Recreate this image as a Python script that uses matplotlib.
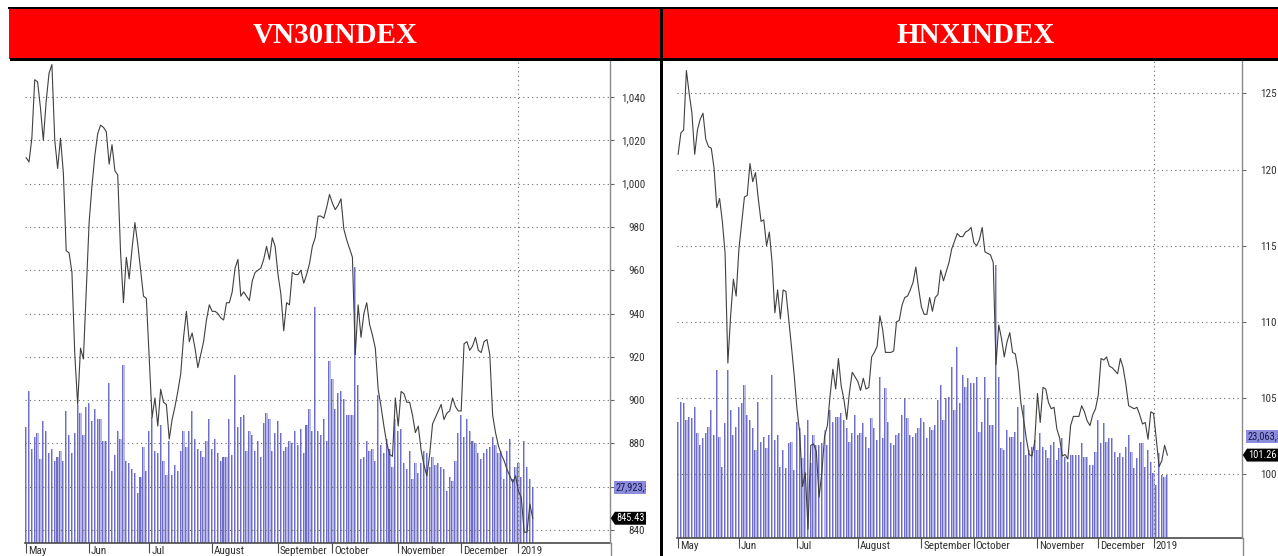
import matplotlib
matplotlib.use("Agg")
import numpy as np
import matplotlib.pyplot as plt
import matplotlib.font_manager as fm
from matplotlib.patches import Rectangle
from matplotlib.lines import Line2D
from matplotlib.path import Path
import matplotlib.transforms as mtransforms

# ---------------- data (one value per trading day, 2 May 2018 - early Jan 2019) ----------------
month_labels = ["May", "Jun", "Jul", "August", "September", "October",
                "November", "December", "2019"]
month_pos = [0, 22, 43, 65, 88, 107, 130, 152, 172]

vn30_close = [
    1012, 1010, 1021, 1048, 1047, 1035, 1020, 1038, 1051, 1055,
    1020, 1007, 1021, 1005, 969, 968, 959, 921, 898, 924,
    919, 951, 982, 999, 1013, 1023, 1027, 1026, 1024, 1009,
    1018, 1006, 1004, 968, 945, 966, 956, 970, 982, 972,
    960, 948, 947, 920, 892, 901, 888, 905, 899, 898,
    882, 891, 897, 904, 912, 929, 941, 927, 931, 924,
    915, 921, 927, 937, 944, 941, 941, 940, 938, 937,
    945, 945, 950, 961, 965, 948, 950, 948, 946, 955,
    959, 960, 961, 965, 971, 965, 975, 971, 958,
    949, 932, 945, 944, 959, 958, 958, 960, 954, 958,
    963, 971, 975, 985, 985, 984, 989, 995, 991, 988,
    990, 993, 979, 974, 970, 966, 921, 944, 929, 940,
    945, 935, 930, 924, 905, 897, 888, 880, 875, 874,
    901, 888, 904, 903, 899, 899, 893, 885, 888, 877,
    870, 865, 875, 889, 892, 895, 898, 891, 894, 895,
    901, 897, 895, 895, 926, 927, 923, 925, 929, 923,
    922, 927, 928, 921, 893, 885, 879, 875, 872, 868,
    865, 862, 865, 858, 855, 839, 839, 852, 845.43,
]

vn30_volume = [  # million shares
    58, 76, 47, 53, 55, 42, 61, 56, 45, 47,
    41, 43, 46, 41, 66, 54, 45, 55, 69, 65,
    54, 68, 70, 61, 67, 62, 62, 51, 51, 80,
    36, 44, 56, 52, 89, 41, 40, 37, 35, 25,
    33, 48, 36, 56, 63, 46, 45, 59, 41, 34,
    51, 34, 39, 36, 46, 56, 48, 56, 66, 52,
    47, 46, 43, 51, 62, 47, 52, 45, 41, 43,
    43, 62, 44, 84, 58, 63, 64, 46, 56, 54,
    46, 51, 43, 60, 65, 62, 46, 55, 61,
    55, 46, 48, 51, 50, 56, 49, 57, 45, 59,
    67, 56, 118, 56, 54, 62, 51, 91, 82, 67,
    75, 76, 72, 64, 64, 64,
    138,
    79, 42, 43, 51, 46, 47, 41, 74, 49, 45,
    52, 47, 38, 62, 56, 57, 40, 37, 46, 32,
    40, 35, 40, 46, 45, 38, 43, 39, 40, 38,
    37, 26, 33, 31, 41, 55, 64, 53, 62, 56,
    51, 50, 45, 42, 45, 47, 48, 53, 49, 45,
    46, 32, 46, 52, 32, 38, 40, 33, 51, 38,
    32, 27.923540,
]

hnx_close = [
    121.0, 122.4, 122.6, 126.5, 125.0, 123.7, 121.0, 122.6, 123.3, 123.7,
    122.0, 121.5, 121.4, 120.1, 117.5, 118.1, 116.6, 114.5, 107.3, 110.4,
    112.8, 111.7, 114.8, 116.5, 118.2, 118.3, 120.4, 119.2, 119.8, 118.1,
    116.6, 116.7, 115.0, 115.9, 113.9, 110.6, 112.1, 110.2, 112.1, 112.0,
    110.2, 108.4, 106.5, 104.3, 102.7, 99.2, 100.1, 96.4, 101.9, 102.0,
    101.5, 98.5, 100.1, 102.5, 103.2, 105.2, 106.9, 105.6, 107.6, 105.8,
    104.9, 103.6, 105.4, 106.7, 106.4, 106.1, 105.5, 106.3, 105.6, 105.7,
    107.7, 108.0, 108.4, 110.4, 109.5, 108.0, 108.0, 108.0, 108.1, 110.0,
    110.1, 111.1, 111.6, 111.7, 112.1, 112.6, 113.6, 112.2, 111.0, 110.5,
    110.5, 111.6, 110.7, 111.6, 111.8, 113.4, 112.7, 113.3, 113.9, 114.8,
    115.3, 115.8, 115.6, 115.6, 115.9, 116.0, 116.2, 115.2, 115.0, 115.4,
    116.2, 114.6, 114.5, 114.4, 113.9,
    107.2, 109.8, 108.9, 107.7, 108.7, 109.3, 108.0, 107.9, 106.8, 104.7,
    103.6, 102.3, 101.3, 101.2, 102.1, 105.3, 103.4, 105.7, 105.6, 104.7,
    104.3, 104.4, 103.0, 102.4, 101.2, 101.3, 101.0, 103.2, 103.8, 103.8,
    103.8, 104.5, 104.1, 103.5, 103.2, 103.9, 104.3, 105.2, 107.6, 107.5,
    107.7, 107.1, 107.0, 106.8, 106.6, 107.6, 107.0, 105.9, 104.5, 104.4,
    104.3, 104.4, 103.9, 103.3, 103.4, 102.3, 104.1, 104.0, 102.3, 100.5,
    100.9, 101.9, 101.26,
]

hnx_volume = [  # million shares
    42.7, 50.0, 49.4, 43.3, 44.5, 43.9, 48.2, 38.4, 34.2, 36.6,
    38.4, 40.9, 47.0, 37.8, 61.6, 37.2, 26.2, 42.1, 61.6, 47.0,
    37.8, 40.9, 48.2, 49.4, 56.1, 45.1, 43.3, 40.3, 32.3, 50.0,
    35.4, 37.2, 32.9, 37.8, 59.8, 36.0, 37.8, 26.2, 32.3, 25.6,
    34.8, 35.4, 25.0, 42.7, 40.3, 29.3, 37.8, 43.3, 27.5, 37.8,
    34.2, 34.2, 34.8, 39.7, 34.2, 47.0, 42.7, 44.5, 44.5, 45.8,
    43.3, 40.3, 35.4, 38.4, 45.1, 37.8, 38.4, 42.1, 37.2, 32.9,
    43.9, 40.3, 36.0, 59.2, 36.6, 54.9, 42.7, 34.8, 34.2, 37.8,
    38.4, 45.1, 51.2, 43.9, 37.8, 37.2, 38.4, 40.3, 43.9, 42.7,
    36.6, 40.9, 39.7, 41.5, 50.6,
    56.1, 43.3, 51.2, 51.9, 62.8, 47.0, 70.2, 49.4, 59.8, 55.5,
    58.6, 56.7, 56.7, 59.2, 39.0, 42.7, 59.2, 51.2, 41.5, 41.5,
    100.0,
    59.2, 32.9, 32.3, 39.7, 37.2, 37.2, 39.0, 48.2, 35.4, 48.8,
    30.5, 32.3, 33.6, 36.0, 32.3, 38.4, 33.6, 32.3, 29.3, 34.2,
    35.4, 28.7, 32.9, 36.6, 29.9, 28.1, 30.5, 30.5, 30.5, 30.5,
    34.8, 29.9, 29.9, 26.8, 26.8, 31.7, 43.3, 34.8, 42.1, 35.4,
    36.6, 36.6, 31.7, 29.9, 31.1, 29.9, 33.6, 37.8, 31.7, 25.6,
    29.3, 34.8, 34.8, 26.2, 32.3, 28.1, 23.8, 19.5, 31.1, 23.2,
    22.6, 23.063500,
]

vn30_ticks = [840, 860, 880, 900, 920, 940, 960, 980, 1000, 1020, 1040]
vn30_hidden_labels = [860]          # covered by the volume tag in the source
hnx_ticks = [100, 105, 110, 115, 120, 125]


# ---------------- pick a narrow sans font if one is installed ----------------
def pick_narrow():
    names = {f.name for f in fm.fontManager.ttflist}
    for p in ["Liberation Sans Narrow", "Arial Narrow", "Roboto Condensed",
              "Open Sans Condensed", "Noto Sans Condensed",
              "DejaVu Sans Condensed"]:
        if p in names:
            return fm.FontProperties(family=[p, "DejaVu Sans"]), 1.0
    for fam in ["Roboto", "Open Sans", "Noto Sans", "DejaVu Sans",
                "Liberation Sans"]:
        for f in fm.fontManager.ttflist:
            if f.name == fam and str(f.stretch) in ("condensed",
                                                    "semi-condensed",
                                                    "extra-condensed"):
                return fm.FontProperties(family=[fam, "DejaVu Sans"],
                                         stretch=f.stretch), 1.0
    return fm.FontProperties(family=["DejaVu Sans"]), 0.82


NARROW_FP, SIZE_K = pick_narrow()


def nfp(size, weight="normal"):
    fp = NARROW_FP.copy()
    fp.set_size(size * SIZE_K)
    fp.set_weight(weight)
    return fp


# ---------------- styling ----------------
W, H = 1278, 556
fig = plt.figure(figsize=(W / 100, H / 100), dpi=100)
fig.patch.set_facecolor("white")

BAR_LIGHT = "#b9b9e8"
BAR_DARK = "#6e6ec8"
LINE_C = "#404040"
GRID_C = "#6a6a6a"
DOT = (0, (1, 3))


def fx(x):
    return x / W


def fy(y):
    return 1 - y / H


def tag_box(x0, y0, width, height, mutation_size):
    pad = 0.14 * mutation_size
    x0, y0 = x0 - pad, y0 - pad
    w, h = width + 2 * pad, height + 2 * pad
    tip = 0.32 * h
    verts = [(x0, y0), (x0 + w, y0), (x0 + w, y0 + h), (x0, y0 + h),
             (x0 - tip, y0 + h / 2), (x0, y0)]
    return Path(verts, closed=True)


def panel(px_left, px_right, px_top, px_bottom, close, vol, vmax, ylim,
          ticks, hidden, vol_str, vol_dy, crop_right):
    rect = [fx(px_left), fy(px_bottom), fx(px_right) - fx(px_left),
            fy(px_top) - fy(px_bottom)]
    ax = fig.add_axes(rect)
    ax2 = ax.twinx()
    x = np.arange(len(close))

    # volume bars: light body with a darker left stripe
    ax.bar(x, vol, width=0.80, color=BAR_LIGHT, edgecolor="none", zorder=2)
    ax.bar(x - 0.22, vol, width=0.36, color=BAR_DARK, edgecolor="none",
           zorder=2)
    ax.set_ylim(0, vmax)
    ax.set_xlim(-0.4, 204.0)
    ax.set_yticks([])

    ax2.yaxis.grid(True, color=GRID_C, linestyle=DOT, linewidth=0.8)
    ax2.set_axisbelow(True)
    ax2.axvline(month_pos[-1], color=GRID_C, linestyle=DOT, linewidth=0.8,
                zorder=1)
    ax2.plot(x, close, color=LINE_C, lw=0.8, zorder=3)
    ax2.set_ylim(*ylim)
    ax2.set_xlim(-0.4, 204.0)

    ax2.set_yticks(ticks)
    ax2.set_yticklabels(["" if t in hidden else f"{t:,}" for t in ticks],
                        fontproperties=nfp(8), color="#333333")
    ax2.tick_params(axis="y", length=3, width=0.8, color="#666666",
                    pad=22.3, direction="out")
    for t in ax2.get_yticklabels():
        t.set_horizontalalignment("right")

    for a in (ax, ax2):
        a.spines["top"].set_visible(False)
        a.spines["left"].set_visible(False)
    ax.spines["right"].set_visible(False)
    ax2.spines["bottom"].set_visible(False)
    ax.spines["bottom"].set_color("#4a4a4a")
    ax.spines["bottom"].set_linewidth(1.2)
    ax2.spines["right"].set_color("#8a8a8a")
    ax2.spines["right"].set_linewidth(1.0)

    # month ticks + labels to the right of each tick
    ax.set_xticks(month_pos)
    ax.set_xticklabels([])
    ax.tick_params(axis="x", length=7, width=0.8, color="#4a4a4a",
                   direction="out")
    trans = (mtransforms.blended_transform_factory(ax.transData, ax.transAxes)
             + mtransforms.ScaledTranslation(2 / 100, -3 / 100,
                                             fig.dpi_scale_trans))
    for pos, lab in zip(month_pos, month_labels):
        ax.text(pos, 0, lab, transform=trans, ha="left", va="top",
                fontproperties=nfp(8), color="#333333", clip_on=False)

    # spine extension below the axis
    fig.lines.append(Line2D([fx(px_right + 0.5)] * 2, [fy(px_bottom), 0],
                            transform=fig.transFigure, color="#8a8a8a",
                            lw=1.0))

    # crop region for the last-value labels (the chart is cut on its right)
    crop = mtransforms.TransformedBbox(
        mtransforms.Bbox.from_extents(0, 0, fx(crop_right), 1),
        fig.transFigure)

    t1 = ax2.annotate(vol_str, xy=(1, vol[-1]),
                      xycoords=("axes fraction", ax.transData),
                      xytext=(4.2, vol_dy), textcoords="offset points",
                      ha="left", va="center", fontproperties=nfp(7.5),
                      color="#15154a", annotation_clip=False,
                      bbox=dict(boxstyle="square,pad=0.15", fc="#8c8cdc",
                                ec="none"),
                      zorder=6)
    t2 = ax2.annotate(f"{close[-1]:.2f}", xy=(1, close[-1]),
                      xycoords=("axes fraction", "data"),
                      xytext=(4.6, 0), textcoords="offset points",
                      ha="left", va="center", fontproperties=nfp(7.5),
                      color="white", annotation_clip=False,
                      bbox=dict(boxstyle=tag_box, fc="black", ec="none"),
                      zorder=7)
    for t in (t1, t2):
        t.set_clip_on(True)
        t.set_clip_box(crop)
    for t in ax2.get_yticklabels():
        t.set_clip_on(True)
        t.set_clip_box(crop)
    return ax, ax2


panel(25, 610, 60, 543, vn30_close, vn30_volume, 241.5, (834.0, 1057.1),
      vn30_ticks, vn30_hidden_labels, "27,923,540", 0, 646)
panel(677, 1242, 60, 538.3, hnx_close, hnx_volume, 175.1, (95.80, 127.19),
      hnx_ticks, [], "23,063,500", 27.9, W)


# ---------------- headers / frame decoration ----------------
def frect(x0, y0, x1, y1, color, z=5):
    fig.patches.append(Rectangle((fx(x0), fy(y1)), fx(x1) - fx(x0),
                                 fy(y0) - fy(y1), transform=fig.transFigure,
                                 facecolor=color, edgecolor="none", zorder=z))


frect(9, 8.5, 660, 58.5, "#ff0000")
frect(663, 8.5, W, 58.5, "#ff0000")
frect(8, 6.5, W, 8.8, "black")
frect(10, 58.3, W, 61, "black")
frect(660, 6.5, 663, H, "black")

fig.text(fx(335), fy(43), "VN30INDEX", ha="center", va="baseline",
         family="Liberation Serif", fontweight="bold", fontsize=21,
         color="white", zorder=7)
fig.text(fx(975.5), fy(43), "HNXINDEX", ha="center", va="baseline",
         family="Liberation Serif", fontweight="bold", fontsize=21,
         color="white", zorder=7)

fig.savefig("out.png", dpi=100)
